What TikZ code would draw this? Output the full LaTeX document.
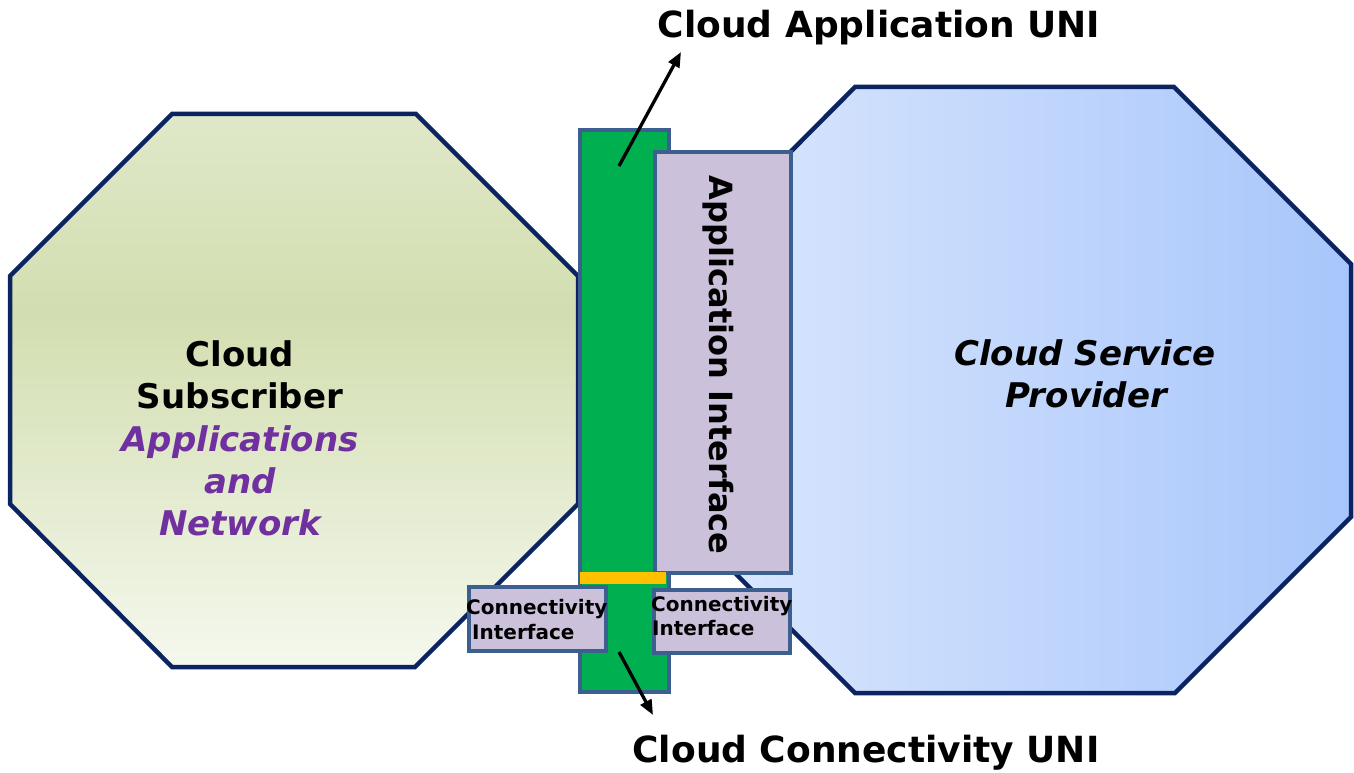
\documentclass[tikz,border=0pt]{standalone}
\usepackage{fontspec}
\setmainfont{DejaVu Sans}
\usetikzlibrary{arrows.meta}
\definecolor{navy}{HTML}{0B2461}
\definecolor{steel}{HTML}{3C5F8F}
\definecolor{lav}{HTML}{CCC1DA}
\definecolor{grn}{HTML}{00B050}
\definecolor{yel}{HTML}{FFC000}
\definecolor{purp}{HTML}{7030A0}
\definecolor{lgtop}{HTML}{DFE8C9}
\definecolor{lgmid}{HTML}{D2DEB0}
\definecolor{lgbot}{HTML}{F5F8EE}
\definecolor{rbl}{HTML}{DCE8FD}
\definecolor{rbr}{HTML}{A8C6FB}
\pgfdeclareverticalshading{leftgrad}{100bp}{color(0bp)=(lgbot); color(25bp)=(lgbot); color(57bp)=(lgmid); color(75bp)=(lgtop); color(100bp)=(lgtop)}
\begin{document}
\begin{tikzpicture}[x=1pt,y=-1pt,
  octline/.style={draw=navy,line width=4.5pt,line join=miter},
  boxstyle/.style={draw=steel,line width=4pt,inner sep=0pt,anchor=north west},
  bigtxt/.style={inner sep=0pt,anchor=base,font=\fontsize{34}{40}\selectfont\bfseries},
  unitxt/.style={inner sep=0pt,anchor=base,font=\fontsize{36}{42}\selectfont\bfseries},
  conntxt/.style={inner sep=0pt,anchor=base west,font=\fontsize{20}{24}\selectfont\bfseries},
  arr/.style={line width=3.3pt,-{Triangle[length=15pt,width=12pt]}}]
\useasboundingbox (0,0) rectangle (1354,773);
% left octagon
\path[octline,shading=leftgrad] (172,114) -- (416,114) -- (578,276) -- (578,504) -- (415,667) -- (172,667) -- (10,504) -- (10,276) -- cycle;
% right octagon
\path[octline,left color=rbl,right color=rbr] (855,87) -- (1174,87) -- (1351,264) -- (1351,517) -- (1175,693) -- (855,693) -- (679,517) -- (679,264) -- cycle;
% bars and boxes
\node[boxstyle,fill=grn,minimum width=89pt,minimum height=562pt] (unibar) at (578,128) {};
\node[boxstyle,fill=lav,minimum width=136pt,minimum height=421pt] (appif) at (653,150) {};
\node[inner sep=0pt,anchor=north west,fill=yel,minimum width=86pt,minimum height=12pt] (ybar) at (580,572) {};
\node[boxstyle,fill=lav,minimum width=137pt,minimum height=64pt] (connL) at (467,585) {};
\node[boxstyle,fill=lav,minimum width=136pt,minimum height=63pt] (connR) at (652,588) {};
% texts
\node[inner sep=0pt,anchor=base,rotate=-90,font=\fontsize{32}{38}\selectfont\bfseries] (apptxt) at (709,365) {Application Interface};
\node[conntxt] (cl1) at (466,614) {Connectivity};
\node[conntxt] (cl2) at (472,639) {Interface};
\node[conntxt] (cr1) at (651,611) {Connectivity};
\node[conntxt] (cr2) at (652,635) {Interface};
\node[bigtxt] (s1) at (240,366) {Cloud};
\node[bigtxt] (s2) at (240,408) {Subscriber};
\node[bigtxt,text=purp,font=\fontsize{34}{40}\selectfont\bfseries\itshape] (s3) at (240,451) {Applications};
\node[bigtxt,text=purp,font=\fontsize{34}{40}\selectfont\bfseries\itshape] (s4) at (240,493) {and};
\node[bigtxt,text=purp,font=\fontsize{34}{40}\selectfont\bfseries\itshape] (s5) at (240,535) {Network};
\node[bigtxt,font=\fontsize{34}{40}\selectfont\bfseries\itshape] (p1) at (1085,365) {Cloud Service};
\node[bigtxt,font=\fontsize{34}{40}\selectfont\bfseries\itshape] (p2) at (1086,407) {Provider};
\node[unitxt] (uniA) at (879,38) {Cloud Application UNI};
\node[unitxt] (uniC) at (866,762) {Cloud Connectivity UNI};
% arrows
\coordinate (aS) at (619,166);
\coordinate (aE) at (681,52);
\coordinate (bS) at (619,652);
\coordinate (bE) at (653,715);
\draw[arr] (aS) -- (aE);
\draw[arr] (bS) -- (bE);
\end{tikzpicture}
\end{document}
